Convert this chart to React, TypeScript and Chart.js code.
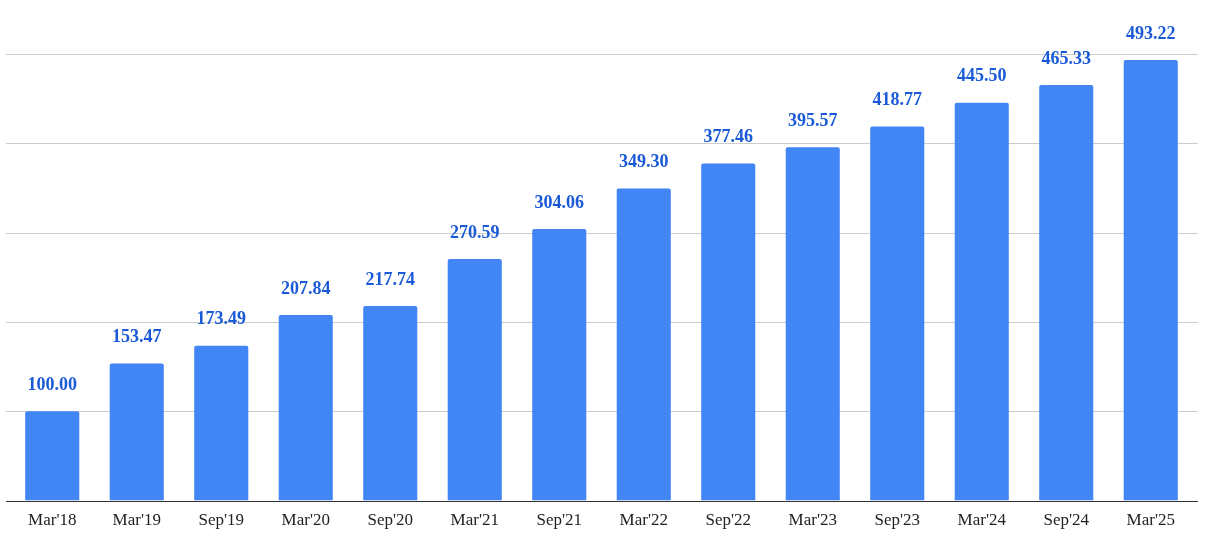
import { useEffect, useRef } from 'react';
import { Chart, registerables, Plugin } from 'chart.js';

Chart.register(...registerables);

const categories = [
  "Mar'18", "Mar'19", "Sep'19", "Mar'20", "Sep'20", "Mar'21", "Sep'21",
  "Mar'22", "Sep'22", "Mar'23", "Sep'23", "Mar'24", "Sep'24", "Mar'25",
];
const values = [
  100.0, 153.47, 173.49, 207.84, 217.74, 270.59, 304.06,
  349.3, 377.46, 395.57, 418.77, 445.5, 465.33, 493.22,
];
const gridValues = [100, 200, 300, 400, 500];

const palette = {
  bar: '#4285f4',
  label: '#1a5ad7',
  grid: '#cccccc',
  axis: '#333333',
  text: '#222222',
};

const serif = '"Liberation Serif", "Times New Roman", serif';

// gridlines run a little past the plot area, like the source
const gridLines: Plugin<'bar'> = {
  id: 'gridLines',
  beforeDatasetsDraw(chart) {
    const { ctx, chartArea, scales } = chart;
    const left = chartArea.left - 4;
    const right = chartArea.right + 5;
    ctx.save();
    ctx.lineWidth = 1;
    ctx.strokeStyle = palette.grid;
    gridValues.forEach((v) => {
      const y = Math.round(scales.y.getPixelForValue(v)) + 0.5;
      ctx.beginPath();
      ctx.moveTo(left, y);
      ctx.lineTo(right, y);
      ctx.stroke();
    });
    ctx.restore();
  },
  afterDatasetsDraw(chart) {
    const { ctx, chartArea, scales } = chart;
    const y = Math.round(scales.y.getPixelForValue(0)) + 0.5;
    ctx.save();
    ctx.lineWidth = 1;
    ctx.strokeStyle = palette.axis;
    ctx.beginPath();
    ctx.moveTo(chartArea.left - 4, y);
    ctx.lineTo(chartArea.right + 5, y);
    ctx.stroke();
    ctx.restore();
  },
};

// value labels above each bar
const valueLabels: Plugin<'bar'> = {
  id: 'valueLabels',
  afterDatasetsDraw(chart) {
    const { ctx } = chart;
    const meta = chart.getDatasetMeta(0);
    ctx.save();
    ctx.font = `bold 18px ${serif}`;
    ctx.fillStyle = palette.label;
    ctx.textAlign = 'center';
    ctx.textBaseline = 'middle';
    meta.data.forEach((bar, index) => {
      ctx.fillText(values[index].toFixed(2), bar.x, bar.y - 26);
    });
    ctx.restore();
  },
};

export default function App(): JSX.Element {
  const canvasRef = useRef<HTMLCanvasElement | null>(null);

  useEffect(() => {
    document.body.style.margin = '0';
    if (!canvasRef.current) return;
    const chart = new Chart(canvasRef.current, {
      type: 'bar',
      data: {
        labels: categories,
        datasets: [
          {
            data: values,
            backgroundColor: palette.bar,
            borderRadius: 2,
            borderSkipped: 'bottom',
            categoryPercentage: 1,
            barPercentage: 0.64,
          },
        ],
      },
      options: {
        responsive: true,
        maintainAspectRatio: false,
        animation: false,
        layout: { padding: { top: 54, left: 10, right: 21, bottom: 1 } },
        plugins: {
          legend: { display: false },
          tooltip: { enabled: false },
        },
        scales: {
          x: {
            grid: { display: false, drawTicks: false },
            border: { display: false },
            ticks: {
              color: palette.text,
              font: { family: serif, size: 17 },
              padding: 10,
              maxRotation: 0,
            },
          },
          y: {
            display: false,
            min: 0,
            max: 500,
          },
        },
      },
      plugins: [gridLines, valueLabels],
    });

    return () => {
      chart.destroy();
    };
  }, []);

  return (
    <div style={{ position: 'relative', width: 1214, height: 542 }}>
      <canvas ref={canvasRef} />
    </div>
  );
}
